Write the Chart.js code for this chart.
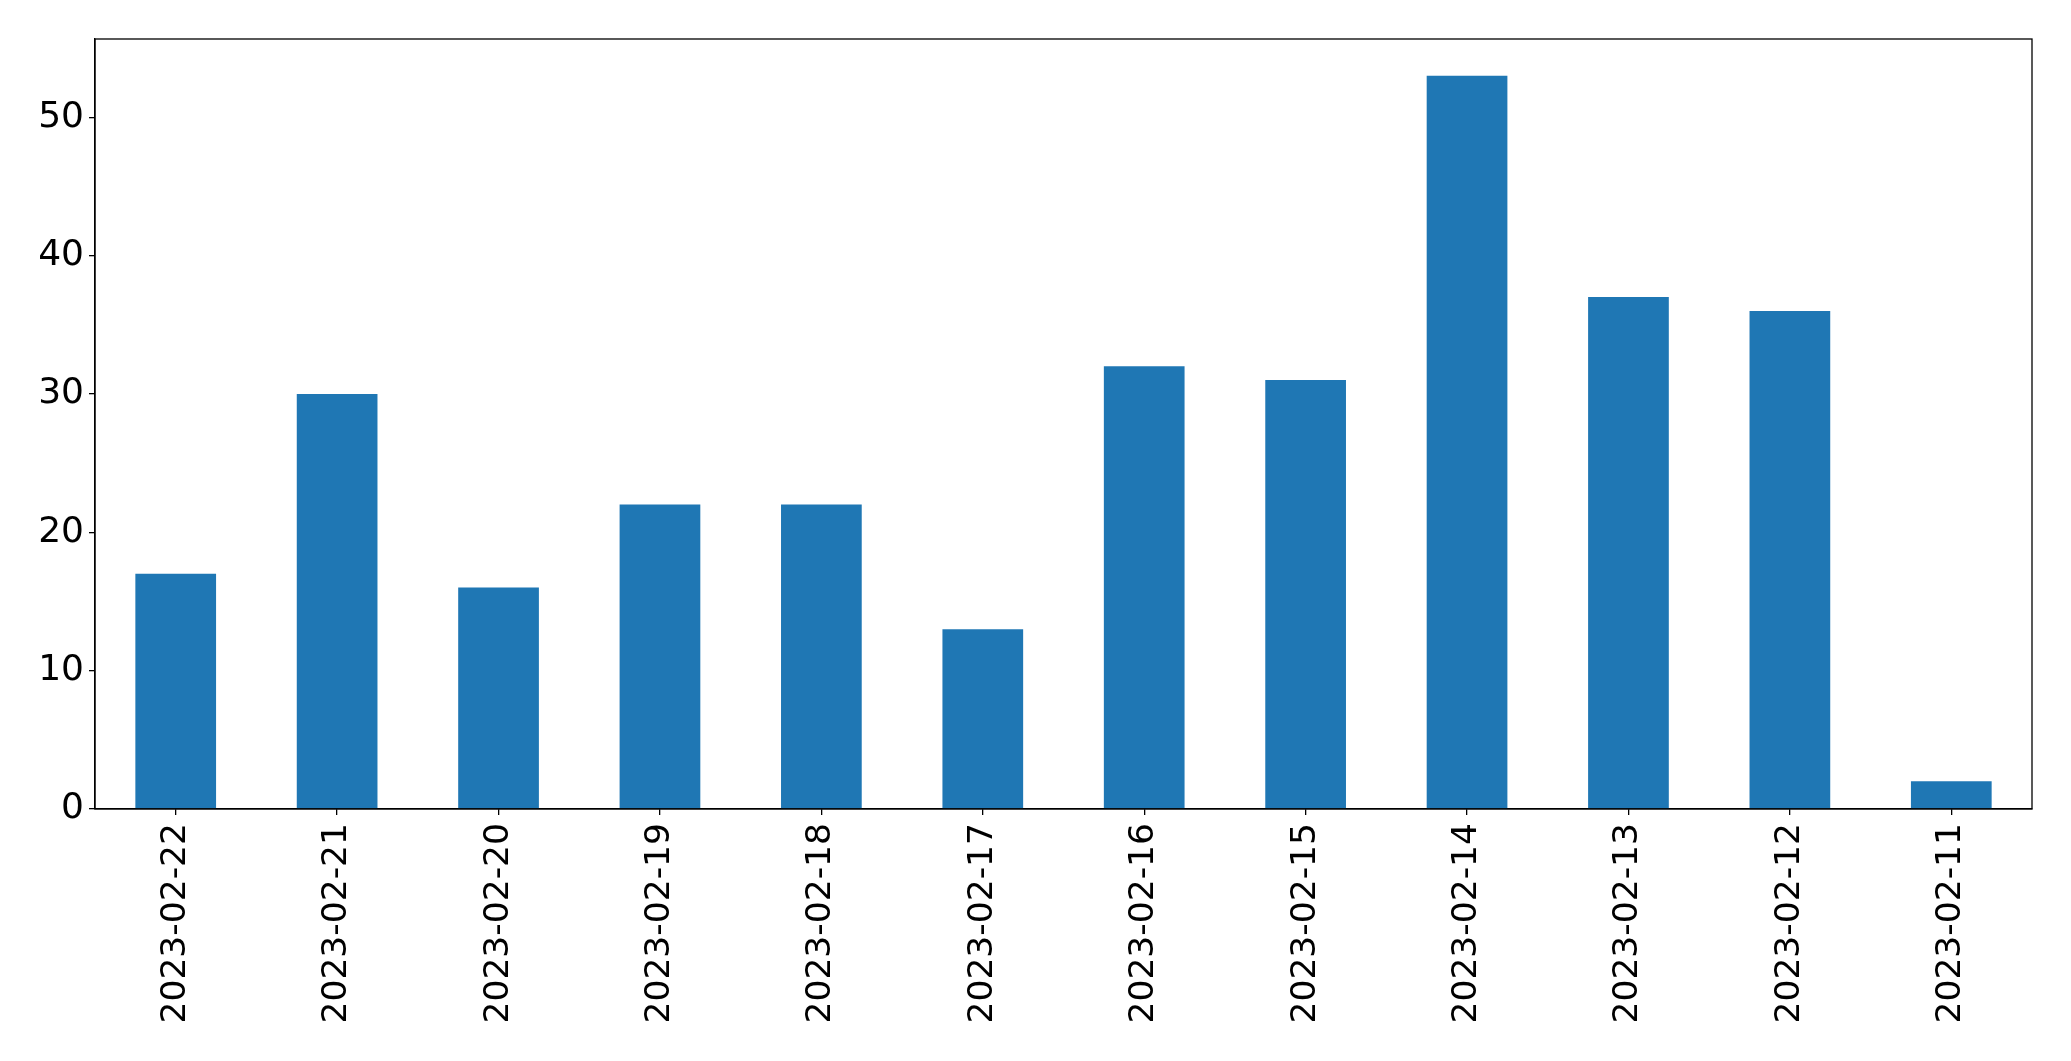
<!DOCTYPE html>
<html>
<head>
<meta charset="utf-8">
<script src="https://cdn.jsdelivr.net/npm/chart.js@4"></script>
<style>
  html, body { margin: 0; padding: 0; background: #fff; }
  #wrap { width: 2071px; height: 1061px; }
</style>
</head>
<body>
<div id="wrap"><canvas id="barChart" width="2071" height="1061"></canvas></div>
<script>
const dates = [
  "2023-02-22", "2023-02-21", "2023-02-20", "2023-02-19", "2023-02-18", "2023-02-17",
  "2023-02-16", "2023-02-15", "2023-02-14", "2023-02-13", "2023-02-12", "2023-02-11"
];
const counts = [17, 30, 16, 22, 22, 13, 32, 31, 53, 37, 36, 2];
const yTicks = [0, 10, 20, 30, 40, 50];

// box around the plot area, like the matplotlib frame
const frameBox = {
  id: "frameBox",
  afterDraw(chart) {
    const { ctx, chartArea } = chart;
    ctx.save();
    ctx.strokeStyle = "#000";
    ctx.lineWidth = 1.3;
    ctx.strokeRect(chartArea.left, chartArea.top,
      chartArea.right - chartArea.left, chartArea.bottom - chartArea.top);
    ctx.restore();
  }
};

const ctx = document.getElementById("barChart");

new Chart(ctx, {
  type: "bar",
  data: {
    labels: dates,
    datasets: [{
      data: counts,
      backgroundColor: "#1f77b4",
      borderWidth: 0,
      barPercentage: 0.5,
      categoryPercentage: 1.0
    }]
  },
  options: {
    responsive: false,
    animation: false,
    layout: { padding: { top: 39, right: 39, left: 0, bottom: 0 } },
    plugins: {
      legend: { display: false },
      tooltip: { enabled: false }
    },
    scales: {
      x: {
        offset: true,
        grid: { offset: false, drawOnChartArea: false, tickLength: 6, color: "#000", lineWidth: 1.3 },
        border: { color: "#000", width: 1.3 },
        ticks: {
          color: "#000",
          font: { family: "DejaVu Sans", size: 34.5 },
          minRotation: 90,
          maxRotation: 90,
          autoSkip: false,
          padding: 8
        },
        afterFit(scale) { scale.height = 252; }
      },
      y: {
        min: 0,
        max: 55.65,
        afterBuildTicks(scale) {
          scale.ticks = yTicks.map(v => ({ value: v }));
        },
        grid: { drawOnChartArea: false, tickLength: 6, color: "#000", lineWidth: 1.3 },
        border: { color: "#000", width: 1.3 },
        ticks: {
          color: "#000",
          font: { family: "DejaVu Sans", size: 36 },
          padding: 5
        },
        afterFit(scale) { scale.width = 95; }
      }
    }
  },
  plugins: [frameBox]
});
</script>
</body>
</html>
